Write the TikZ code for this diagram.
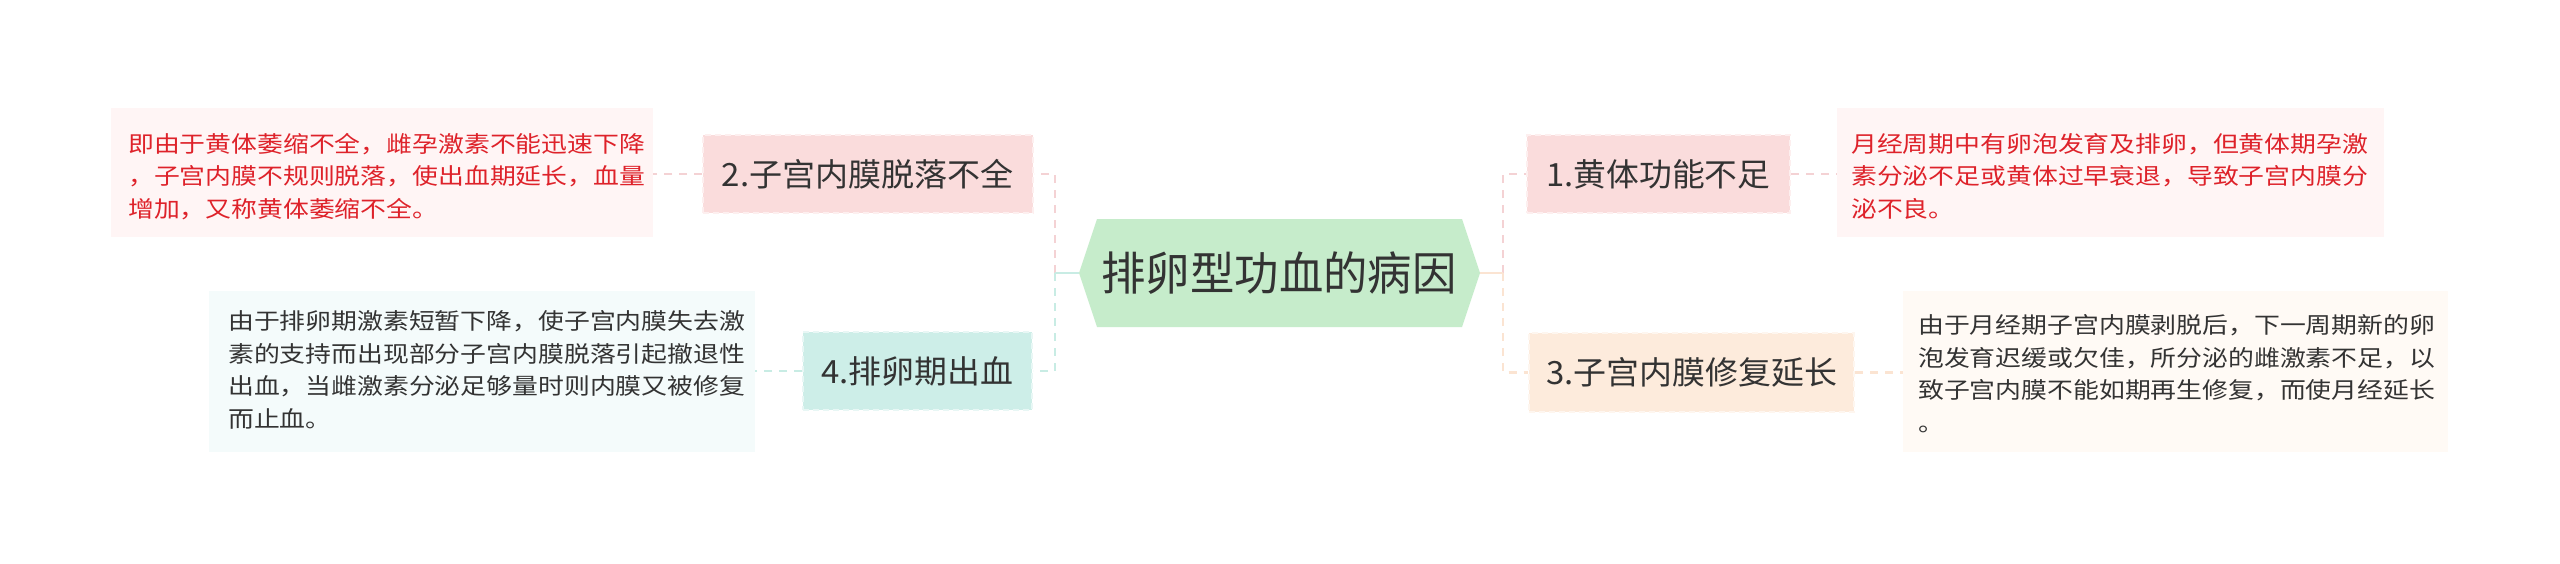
\documentclass[tikz,border=0pt]{standalone}
\usepackage{fontspec}
\setmainfont{Noto Sans CJK SC}
\usepackage{graphicx}
\definecolor{txt}{HTML}{333333}
\definecolor{redtxt}{HTML}{DE222A}
\definecolor{cfill}{HTML}{C6ECCB}
\definecolor{pinkF}{HTML}{FADCDC}
\definecolor{peachF}{HTML}{FDEBDC}
\definecolor{tealF}{HTML}{CDEEE8}
\definecolor{pinkD}{HTML}{FFF5F5}
\definecolor{peachD}{HTML}{FFFAF5}
\definecolor{tealD}{HTML}{F4FBFB}
\definecolor{pinkL}{HTML}{F4D2D4}
\definecolor{tealL}{HTML}{C8ECE4}
\definecolor{peachL}{HTML}{FBE4D2}
\tikzset{
  lblbox/.style={rectangle, inner sep=0pt, fill=#1, draw=#1!45!white,
    dash pattern=on 6pt off 4pt, line width=2pt, text=txt,
    font=\fontsize{32}{38}\selectfont},
  descbox/.style={rectangle, inner sep=0pt, fill=#1},
  desctext/.style={anchor=west, inner sep=0pt, align=left,
    font=\fontsize{22.5}{32.5}\selectfont},
  link/.style={line width=2.5pt, dash pattern=on 8pt off 7pt},
  stub/.style={line width=2.5pt},
}
\newcommand\fitw[2]{\resizebox{#1}{\height}{#2}}
\newcommand\lines[1]{\resizebox{517pt}{\height}{\begin{tabular}{@{}l@{}}#1\end{tabular}}}
\begin{document}
\begin{tikzpicture}[x=1pt,y=-1pt]
\useasboundingbox (0,0) rectangle (2560,563);
\fill[white] (0,0) rectangle (2560,563);

% central topic
\fill[cfill] (1079,273) -- (1097,219) -- (1462,219) -- (1480,273) -- (1462,327) -- (1097,327) -- cycle;
\coordinate (cL) at (1079,273);
\coordinate (cR) at (1480,273);
\coordinate (tL) at (1055,273);
\coordinate (tR) at (1503,273);
\node[inner sep=0pt, text=txt, font=\fontsize{46}{54}\selectfont] (root) at (1279,273) {\fitw{355pt}{排卵型功血的病因}};

% branch labels
\node[lblbox=pinkF, minimum width=263pt, minimum height=78pt] (b1) at (1658.5,174) {\fitw{224pt}{1.黄体功能不足}};
\node[lblbox=pinkF, minimum width=330pt, minimum height=78pt] (b2) at (868,174) {\fitw{292pt}{2.子宫内膜脱落不全}};
\node[lblbox=peachF, minimum width=325pt, minimum height=79pt] (b3) at (1691.5,372.5) {\fitw{291pt}{3.子宫内膜修复延长}};
\node[lblbox=tealF, minimum width=229pt, minimum height=78pt] (b4) at (917.5,371) {\fitw{192pt}{4.排卵期出血}};

% description boxes
\node[descbox=pinkD, minimum width=542pt, minimum height=129pt] (d2) at (382,172.5) {};
\node[descbox=pinkD, minimum width=547pt, minimum height=129pt] (d1) at (2110.5,172.5) {};
\node[descbox=tealD, minimum width=546pt, minimum height=161pt] (d4) at (482,371.5) {};
\node[descbox=peachD, minimum width=545pt, minimum height=161pt] (d3) at (2175.5,371.5) {};

\node[desctext, text=redtxt] (t2) at (128,178) {\lines{即由于黄体萎缩不全，雌孕激素不能迅速下降\\，子宫内膜不规则脱落，使出血期延长，血量\\增加，又称黄体萎缩不全。}};
\node[desctext, text=redtxt] (t1) at (1851,178) {\lines{月经周期中有卵泡发育及排卵，但黄体期孕激\\素分泌不足或黄体过早衰退，导致子宫内膜分\\泌不良。}};
\node[desctext, text=txt] (t4) at (228,372) {\lines{由于排卵期激素短暂下降，使子宫内膜失去激\\素的支持而出现部分子宫内膜脱落引起撤退性\\出血，当雌激素分泌足够量时则内膜又被修复\\而止血。}};
\node[desctext, text=txt] (t3) at (1918,376) {\lines{由于月经期子宫内膜剥脱后，下一周期新的卵\\泡发育迟缓或欠佳，所分泌的雌激素不足，以\\致子宫内膜不能如期再生修复，而使月经延长\\。}};

% connectors
\draw[link, pinkL] (tL) |- (b2.east);
\draw[link, tealL] (tL) |- (b4.east);
\draw[stub, tealL] (cL) -- (tL);
\draw[link, pinkL] (tR) |- (b1.west);
\draw[link, peachL] (tR) |- (b3.west);
\draw[stub, peachL] (cR) -- (tR);

\draw[link, pinkL] (b2.west) -- (b2.west -| d2.east);
\draw[link, tealL] (b4.west) -- (b4.west -| d4.east);
\draw[link, pinkL] (b1.east) -- (b1.east -| d1.west);
\draw[link, peachL] (b3.east) -- (b3.east -| d3.west);
\end{tikzpicture}
\end{document}
